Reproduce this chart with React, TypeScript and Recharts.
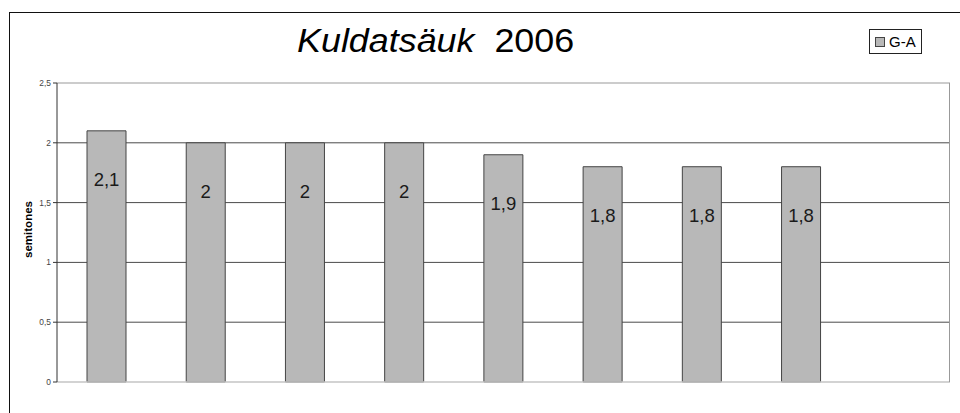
import React from "react";
import { BarChart, Bar, XAxis, YAxis, CartesianGrid, ReferenceLine, LabelList } from "recharts";

const categories = ["1", "2", "3", "4", "5", "6", "7", "8", "9"];
const gaValues: (number | null)[] = [2.1, 2, 2, 2, 1.9, 1.8, 1.8, 1.8, null];
const yTicks = [0, 0.5, 1, 1.5, 2, 2.5];
const gridValues = [0.5, 1, 1.5, 2];
const seriesName = "G-A";
const titleItalic = "Kuldatsäuk";
const titleYear = "2006";
const yAxisTitle = "semitones";

const data = categories.map((c, i) => ({ name: c, ga: gaValues[i] }));

const fmt = (v: number) => String(v).replace(".", ",");

const BarLabel = (props: any) => {
  const { x, y, width, value } = props;
  if (value === null || value === undefined) return null;
  return (
    <text
      x={Number(x) + Number(width) / 2}
      y={Number(y) + 49}
      textAnchor="middle"
      dominantBaseline="central"
      fontFamily="Arial, 'Liberation Sans', sans-serif"
      fontSize={18.5}
      fill="#1a1a1a"
    >
      {fmt(Number(value))}
    </text>
  );
};

const YLabel = (props: any) => {
  const vb = props.viewBox || { x: 0, y: 0, width: 0, height: 0 };
  const cx = vb.x + 28;
  const cy = vb.y + vb.height / 2 - 3;
  return (
    <text
      x={cx}
      y={cy}
      transform={`rotate(-90, ${cx}, ${cy})`}
      textAnchor="middle"
      dominantBaseline="central"
      fontFamily="Arial, 'Liberation Sans', sans-serif"
      fontWeight="bold"
      fontSize={11.5}
      fill="#000"
    >
      {yAxisTitle}
    </text>
  );
};

export default function App() {
  return (
    <div
      style={{
        position: "fixed",
        left: 0,
        top: 0,
        width: 960,
        height: 413,
        overflow: "hidden",
        background: "#fff",
      }}
    >
      <div
        style={{
          position: "absolute",
          left: 9,
          top: 12,
          width: 951,
          height: 401,
          borderTop: "1px solid #111",
          borderLeft: "1px solid #111",
          boxSizing: "border-box",
        }}
      />
      <div
        style={{
          position: "absolute",
          left: 297,
          top: 24,
          fontFamily: "Arial, 'Liberation Sans', sans-serif",
          fontSize: 33,
          lineHeight: "33px",
          whiteSpace: "pre",
          color: "#000",
          transform: "scaleX(1.087)",
          transformOrigin: "left top",
        }}
      >
        <span style={{ fontStyle: "italic" }}>{titleItalic}</span>
        {"  " + titleYear}
      </div>
      <div
        style={{
          position: "absolute",
          left: 869,
          top: 29,
          width: 53,
          height: 25,
          border: "1px solid #222",
          boxSizing: "border-box",
          background: "#fff",
          display: "flex",
          alignItems: "center",
          fontFamily: "Arial, 'Liberation Sans', sans-serif",
          fontSize: 15,
          color: "#000",
        }}
      >
        <span
          style={{
            display: "inline-block",
            width: 8,
            height: 8,
            marginLeft: 5,
            marginRight: 4,
            background: "#b8b8b8",
            border: "1px solid #444",
          }}
        />
        <span>{seriesName}</span>
      </div>
      <div style={{ position: "absolute", left: 0, top: 0 }}>
        <BarChart
          width={960}
          height={413}
          data={data}
          margin={{ top: 83, right: 10, bottom: 30, left: 0 }}
          barSize={39}
        >
          <CartesianGrid
            vertical={false}
            horizontalValues={gridValues}
            stroke="#4a4a4a"
            strokeWidth={1}
          />
          <XAxis
            dataKey="name"
            tick={false}
            tickLine={false}
            height={1}
            axisLine={{ stroke: "#c4c4c4", strokeWidth: 1.5 }}
          />
          <YAxis
            domain={[0, 2.5]}
            ticks={yTicks}
            width={57}
            interval={0}
            tickSize={4}
            tickFormatter={(v: number) => fmt(v)}
            tick={{ fontSize: 8.4, fill: "#444", fontFamily: "Arial, 'Liberation Sans', sans-serif" }}
            axisLine={{ stroke: "#333" }}
            tickLine={{ stroke: "#333" }}
            label={<YLabel />}
          />
          <ReferenceLine y={2.5} stroke="#999" />
          <Bar
            dataKey="ga"
            name={seriesName}
            fill="#b8b8b8"
            stroke="#444"
            strokeWidth={1}
            isAnimationActive={false}
          >
            <LabelList dataKey="ga" content={<BarLabel />} />
          </Bar>
        </BarChart>
      </div>
      <div
        style={{
          position: "absolute",
          left: 949,
          top: 83,
          width: 1,
          height: 299,
          background: "#999",
        }}
      />
    </div>
  );
}
